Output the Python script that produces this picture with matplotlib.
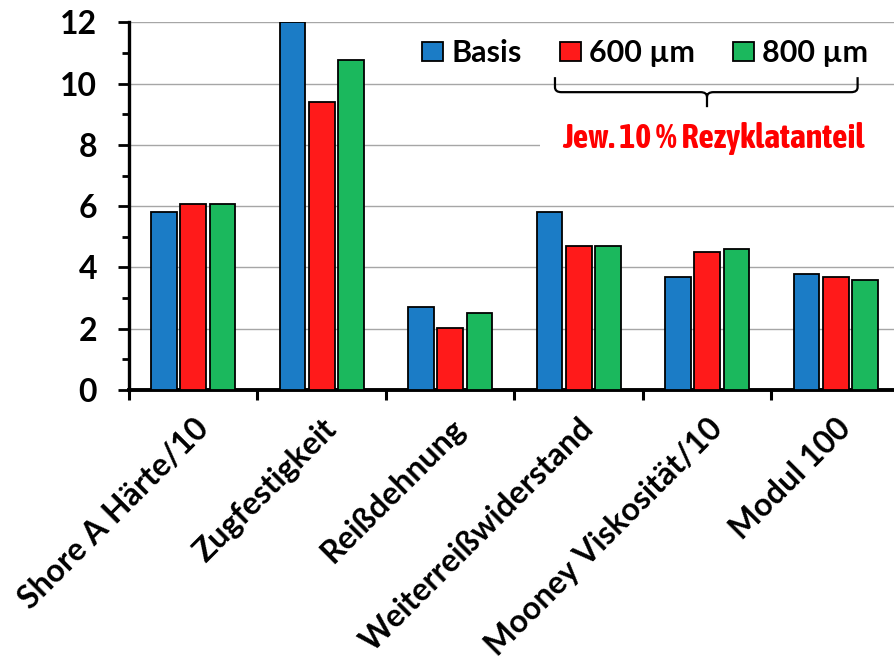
import matplotlib
matplotlib.use("Agg")
import matplotlib.pyplot as plt
import numpy as np
from matplotlib import font_manager
from matplotlib.patches import Patch, Rectangle, PathPatch
from matplotlib.path import Path

# Kennwerte der drei Mischungen
categories = ["Shore A Härte/10", "Zugfestigkeit", "Reißdehnung",
              "Weiterreißwiderstand", "Mooney Viskosität/10", "Modul 100"]
series_names = ["Basis", "600 µm", "800 µm"]
basis = [5.8, 12.0, 2.72, 5.8, 3.7, 3.8]
mesh_600 = [6.07, 9.4, 2.03, 4.7, 4.5, 3.7]
mesh_800 = [6.07, 10.77, 2.52, 4.7, 4.6, 3.6]
colors = ["#1b7cc6", "#ff1a1a", "#1bb85d"]
note = "Jew. 10 % Rezyklatanteil"

main_font = "Lato"
# schmale, aufrechte, fette Schrift für den Hinweis, sonst Roboto
bold_narrow = sorted({f.name for f in font_manager.fontManager.ttflist
                      if ("Condensed" in f.name or "Narrow" in f.name
                          or "condensed" in str(f.stretch))
                      and f.style == "normal"
                      and f.weight in ("bold", 700, "heavy", 800, 900)})
if bold_narrow:
    note_font, note_size = bold_narrow[0], 24.5
else:
    note_font, note_size = "Roboto", 19

plt.rcParams["font.family"] = [main_font, "DejaVu Sans"]
plt.rcParams["font.weight"] = "bold"

fig = plt.figure(figsize=(8.95, 6.61), dpi=100)
W, H = 895, 661
ax = fig.add_axes([129 / W, 271 / H, 771 / W, 367.7 / H])

x = np.arange(len(categories))
pitch = 0.228
width = 0.2
for i, vals in enumerate([basis, mesh_600, mesh_800]):
    ax.bar(x + (i - 1) * pitch, vals, width, color=colors[i],
           edgecolor="black", linewidth=1.3, zorder=3)

ax.set_xlim(-0.5, len(categories) - 0.5)
ax.set_ylim(0, 12)

# Achsen und Ticks
for s in ["top", "right"]:
    ax.spines[s].set_visible(False)
ax.spines["left"].set_linewidth(2.4)
ax.spines["bottom"].set_linewidth(2.8)
ax.set_yticks(np.arange(0, 13, 2))
ax.set_yticks(np.arange(1, 12, 2), minor=True)
ax.tick_params(axis="y", which="major", length=8, width=2, pad=15, labelsize=23)
ax.tick_params(axis="y", which="minor", length=5, width=2)
ax.set_xticks(np.arange(-0.5, len(categories), 1), minor=True)
ax.set_xticks(x)
ax.set_xticklabels(categories, rotation=45, ha="right", rotation_mode="anchor",
                   fontsize=23, fontweight="bold")
ax.tick_params(axis="x", which="major", length=0, pad=17)
ax.tick_params(axis="x", which="minor", length=7, width=2.2)
for lbl in ax.get_yticklabels():
    lbl.set_fontweight("bold")

ax.set_axisbelow(True)
ax.yaxis.grid(True, which="major", color="#a6a6a6", linewidth=1.0)

# Legende
handles = [Patch(facecolor=c, edgecolor="black", linewidth=1.3) for c in colors]
leg = ax.legend(handles, series_names, ncol=3, frameon=False, loc="center right",
                bbox_to_anchor=(868 / W, 1 - 53 / H), bbox_transform=fig.transFigure,
                borderpad=0, borderaxespad=0, handlelength=0.7, handleheight=0.6,
                handletextpad=0.25, columnspacing=1.25,
                prop={"family": main_font, "weight": "bold", "size": 22})

# Klammer über 600 µm und 800 µm
x0, x1, xc = 2.815, 5.17, 3.998
y_top, y_mid, y_tip = 10.21, 9.72, 9.23
rx, ry = 0.05, 0.16
verts = [(x0, y_top), (x0, y_mid + ry), (x0, y_mid), (x0 + rx, y_mid),
         (xc - rx, y_mid), (xc, y_mid), (xc, y_mid - ry), (xc, y_tip),
         (xc, y_mid - ry), (xc, y_mid), (xc + rx, y_mid),
         (x1 - rx, y_mid), (x1, y_mid), (x1, y_mid + ry), (x1, y_top)]
codes = [Path.MOVETO, Path.LINETO, Path.CURVE3, Path.CURVE3,
         Path.LINETO, Path.CURVE3, Path.CURVE3, Path.LINETO,
         Path.MOVETO, Path.CURVE3, Path.CURVE3,
         Path.LINETO, Path.CURVE3, Path.CURVE3, Path.LINETO]
ax.add_patch(PathPatch(Path(verts, codes), facecolor="none", edgecolor="black",
                       linewidth=1.6, zorder=4, clip_on=False))

# Hinweistext mit weißem Hintergrund über der Gitterlinie
ax.add_patch(Rectangle((2.7, 7.55), 3.0, 1.1, facecolor="white", edgecolor="none",
                       zorder=1))
ax.text(2.87, 8.22, note, color="#ff0000", fontsize=note_size, fontweight="bold",
        fontstyle="normal", family=[note_font, "DejaVu Sans"],
        ha="left", va="center", zorder=4)

fig.savefig("out.png", dpi=100)
